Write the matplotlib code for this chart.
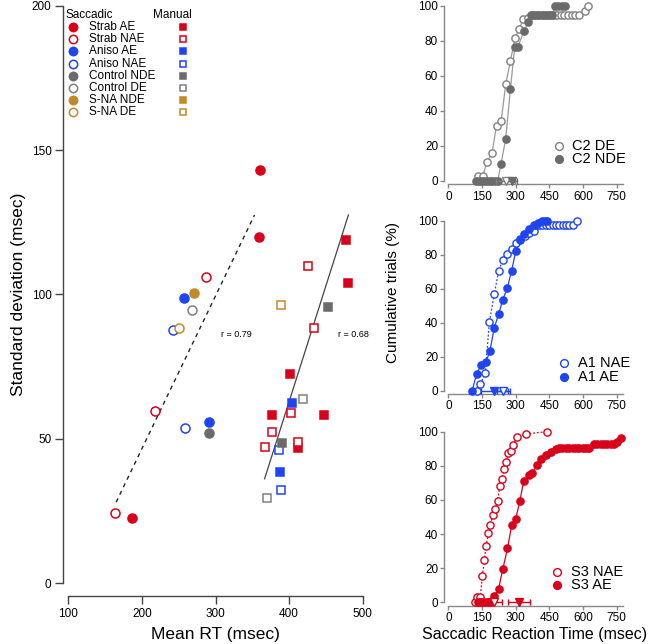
import matplotlib

matplotlib.use('Agg')
import matplotlib.pyplot as plt
from matplotlib.lines import Line2D

plt.rcParams['font.family'] = ['Liberation Sans', 'DejaVu Sans']

RED = '#d9001b'
BLUE = '#1f44f2'
DGRAY = '#6b6b6b'
LGRAY = '#808080'
GOLD = '#c08a2a'

# ---- left panel: mean RT vs SD (msec) ----
sacc_strab_ae_x = [360, 359, 187]
sacc_strab_ae_y = [143, 120, 22.6]
sacc_strab_nae_x = [287, 218, 164]
sacc_strab_nae_y = [106, 59.7, 24.2]
sacc_aniso_ae_x = [257, 291]
sacc_aniso_ae_y = [98.6, 55.9]
sacc_aniso_nae_x = [242, 258]
sacc_aniso_nae_y = [87.8, 53.7]
sacc_ctrl_nde_x = [291]
sacc_ctrl_nde_y = [52.0]
sacc_ctrl_de_x = [268]
sacc_ctrl_de_y = [94.6]
sacc_sna_nde_x = [271]
sacc_sna_nde_y = [100.4]
sacc_sna_de_x = [250.5]
sacc_sna_de_y = [88.4]

man_strab_ae_x = [477, 480.6, 401.6, 377.3, 447.6, 412.6]
man_strab_ae_y = [118.7, 103.8, 72.3, 58.3, 58.3, 46.9]
man_strab_nae_x = [425, 434, 402, 376.4, 412.6, 366.7]
man_strab_nae_y = [109.9, 88.4, 59.0, 52.4, 49.0, 47.0]
man_aniso_ae_x = [403.4, 387.4]
man_aniso_ae_y = [62.4, 38.5]
man_aniso_nae_x = [386.5, 389.2]
man_aniso_nae_y = [46.1, 32.2]
man_ctrl_nde_x = [453.5, 390.9]
man_ctrl_nde_y = [95.5, 48.6]
man_ctrl_de_x = [419, 370]
man_ctrl_de_y = [63.8, 29.6]
man_sna_nde_x = []
man_sna_nde_y = []
man_sna_de_x = [388.8]
man_sna_de_y = [96.4]

fit_sacc_x = [165, 353]
fit_sacc_y = [28, 127.5]
fit_man_x = [366.7, 480.6]
fit_man_y = [36.1, 127.5]
r_sacc = 'r = 0.79'
r_man = 'r = 0.68'

groups = [
    ('Strab AE', RED, True, sacc_strab_ae_x, sacc_strab_ae_y, man_strab_ae_x, man_strab_ae_y),
    ('Strab NAE', RED, False, sacc_strab_nae_x, sacc_strab_nae_y, man_strab_nae_x, man_strab_nae_y),
    ('Aniso AE', BLUE, True, sacc_aniso_ae_x, sacc_aniso_ae_y, man_aniso_ae_x, man_aniso_ae_y),
    ('Aniso NAE', BLUE, False, sacc_aniso_nae_x, sacc_aniso_nae_y, man_aniso_nae_x, man_aniso_nae_y),
    ('Control NDE', DGRAY, True, sacc_ctrl_nde_x, sacc_ctrl_nde_y, man_ctrl_nde_x, man_ctrl_nde_y),
    ('Control DE', LGRAY, False, sacc_ctrl_de_x, sacc_ctrl_de_y, man_ctrl_de_x, man_ctrl_de_y),
    ('S-NA NDE', GOLD, True, sacc_sna_nde_x, sacc_sna_nde_y, man_sna_nde_x, man_sna_nde_y),
    ('S-NA DE', GOLD, False, sacc_sna_de_x, sacc_sna_de_y, man_sna_de_x, man_sna_de_y),
]

# ---- right panels: cumulative saccadic RT distributions ----
c2_de_x = [130, 152, 172, 194, 214, 235, 255, 276, 297, 315, 334, 356,
           373, 389, 405, 421, 437, 453, 469, 485, 501, 517, 533, 549, 565, 581, 608, 623]
c2_de_y = [2.9, 2.9, 10.7, 15.8, 31.6, 34.3, 55.2, 68.5, 81.7, 86.8, 92.4, 92.8,
           94.7, 94.7, 94.7, 94.7, 94.7, 94.7, 94.7, 94.7, 94.7, 94.7, 94.7, 94.7, 94.7, 94.7, 97.2, 100]
c2_nde_x = [123, 135, 147, 159, 171, 183, 195, 207, 219, 234, 255, 276, 295, 308, 337, 356,
            367, 383, 399, 415, 431, 447, 463, 475, 490, 505, 520]
c2_nde_y = [0, 0, 0, 0, 0, 0, 0, 0, 0, 9.7, 24, 52.4, 76.2, 76.2, 85.7, 90.5,
            94.7, 94.7, 94.7, 94.7, 94.7, 94.7, 94.7, 100, 100, 100, 100]
c2_means = [255, 283]
c2_sds = [43, 23]

a1_nae_x = [126, 142, 164, 182, 204, 224, 242, 262, 281, 300, 318, 342, 360, 379,
            389, 404, 419, 434, 449, 464, 479, 494, 509, 524, 539, 554, 574]
a1_nae_y = [0, 3.7, 10.2, 40.2, 56.9, 70.7, 76.9, 80.4, 83.5, 86.8, 89.5, 91, 93, 94,
            97.5, 97.5, 97.5, 97.5, 97.5, 97.5, 97.5, 97.5, 97.5, 97.5, 97.5, 97.5, 100]
a1_ae_x = [105, 126, 145, 167, 185, 204, 224, 242, 262, 281, 300, 318, 337, 360, 379,
           397, 416, 428, 441]
a1_ae_y = [0, 10, 15.1, 16.7, 23.5, 37.1, 45.2, 53.6, 60.3, 70.4, 82, 88.6, 92, 94.9, 97.5,
           98.8, 100, 100, 100]
a1_means = [244, 204]
a1_sds = [30, 60]

s3_nae_x = [118, 127, 142, 151, 160, 167, 178, 186, 198, 207, 219, 229, 238, 249, 258, 267,
            277, 287, 305, 345, 438]
s3_nae_y = [0, 3.3, 3.3, 15.6, 24.8, 33, 40.4, 45.3, 51.2, 54.5, 59.6, 68, 72.4, 78, 82.4, 87.7,
            88.9, 92, 96.9, 98.7, 100]
s3_ae_x = [130, 140, 150, 160, 170, 180, 190, 204, 223, 242, 263, 282, 300, 318, 335, 358, 374,
           396, 414, 434, 456, 478, 493, 508, 523, 538, 553, 568, 583, 598, 613, 626,
           648, 663, 678, 693, 708, 723, 737, 752, 771]
s3_ae_y = [0, 0, 0, 0, 0, 0, 0, 3.7, 7.8, 19.4, 31.6, 45.3, 49.1, 59.2, 71.1, 74.4, 76,
           80.5, 84, 86.3, 88.3, 89.7, 90.3, 90.3, 90.3, 90.3, 90.3, 90.3, 90.3, 90.3, 90.3, 90.3,
           92.6, 92.6, 92.6, 92.6, 92.6, 92.6, 92.6, 94.1, 96.5]
s3_means = [205, 315]
s3_sds = [35, 48]

W, H = 650, 644
fig = plt.figure(figsize=(W / 100, H / 100), dpi=100)


def fx(px):
    return px / W


def fy(py):
    return 1 - py / H


# ---------------- left scatter ----------------
ax = fig.add_axes([fx(68.3), fy(583), 294.4 / W, 577.3 / H])
ax.patch.set_alpha(0)
for label, color, filled, sx, sy, mx, my in groups:
    face = color if filled else 'white'
    ax.plot(sx, sy, 'o', ms=6.5, mfc=face, mec=color, mew=1.1, ls='none', clip_on=False, zorder=3)
    ax.plot(mx, my, 's', ms=5.2, mfc=face, mec=color, mew=1.1, ls='none', clip_on=False, zorder=3)
ax.plot(fit_sacc_x, fit_sacc_y, ls=(0, (3, 3)), color='#222', lw=1)
ax.plot(fit_man_x, fit_man_y, ls='-', color='#444', lw=0.9)
ax.text(329, 86.2, r_sacc, fontsize=6.5, ha='center', va='center')
ax.text(488, 86.2, r_man, fontsize=6.5, ha='center', va='center')

ax.set_xlim(100, 500)
ax.set_ylim(0, 200)
ax.set_xticks([100, 200, 300, 400, 500])
ax.set_yticks([0, 50, 100, 150, 200])
for s in ['top', 'right']:
    ax.spines[s].set_visible(False)
ax.spines['left'].set_position(('outward', 3.6))
ax.spines['bottom'].set_position(('outward', 9.4))
for s in ['left', 'bottom']:
    ax.spines[s].set_color('#444')
    ax.spines[s].set_linewidth(1)
ax.tick_params(length=5.5, width=1, color='#444', labelsize=8.5, pad=3)
ax.set_xlabel('Mean RT (msec)', fontsize=12.5, va='center')
ax.set_ylabel('Standard deviation (msec)', fontsize=12.5, va='center')
ax.xaxis.set_label_coords(0.5, (583 - 634) / 577.3)
ax.yaxis.set_label_coords((19 - 68.3) / 294.4, 0.5)

# legend drawn by hand: two columns of markers, one column of labels
fig.text(fx(65), fy(15), 'Saccadic', fontsize=8.5, va='center')
fig.text(fx(153), fy(15), 'Manual', fontsize=8.5, va='center')
for i, (label, color, filled, *_rest) in enumerate(groups):
    yy = fy(27 + 12.2 * i)
    face = color if filled else 'white'
    fig.add_artist(Line2D([fx(73)], [yy], marker='o', ms=6, mfc=face, mec=color, mew=1.1, ls='none'))
    fig.add_artist(Line2D([fx(183)], [yy], marker='s', ms=4.6, mfc=face, mec=color, mew=1.1, ls='none'))
    fig.text(fx(89), yy, label, fontsize=8.5, va='center')


# ---------------- right cumulative panels ----------------
def cum_panel(rect, open_xy, filled_xy, color, open_color, line_color, open_ls,
              means, sds, labels, leg_px, ylabel=None, xlabel=None):
    a = fig.add_axes(rect)
    a.patch.set_alpha(0)
    ox, oy = open_xy
    fx_, fy_ = filled_xy
    a.plot(ox, oy, color=line_color, ls=open_ls, lw=0.9, zorder=2, clip_on=False)
    a.plot(fx_, fy_, color=line_color, ls='-', lw=0.9, zorder=2, clip_on=False)
    a.plot(ox, oy, 'o', ms=5.2, mfc='white', mec=open_color, mew=1, ls='none', zorder=3, clip_on=False)
    a.plot(fx_, fy_, 'o', ms=5.2, mfc=color, mec=color, mew=1, ls='none', zorder=3, clip_on=False)
    # means +- sd as triangles on the baseline
    for m, sd, face, edge in [(means[0], sds[0], 'white', open_color), (means[1], sds[1], color, color)]:
        eb = a.errorbar([m], [0], xerr=[sd], fmt='v', ms=5.5, mfc=face, mec=edge, mew=1,
                        ecolor=edge, elinewidth=1, capsize=2.5, zorder=4)
        for art in eb.get_children():
            art.set_clip_on(False)
    a.set_xlim(0, 780)
    a.set_ylim(0, 100)
    a.set_xticks([0, 150, 300, 450, 600, 750])
    a.set_yticks([0, 20, 40, 60, 80, 100])
    for s in ['top', 'right']:
        a.spines[s].set_visible(False)
    a.spines['left'].set_position(('outward', 3))
    a.spines['bottom'].set_position(('outward', 2.5))
    for s in ['left', 'bottom']:
        a.spines[s].set_color('#888')
        a.spines[s].set_linewidth(1)
    a.tick_params(length=3, width=1, color='#888', labelsize=8.5, pad=1.5)
    if ylabel:
        a.set_ylabel(ylabel, fontsize=11, va='center')
        a.yaxis.set_label_coords((393 - 448.5) / (780 * 0.2243), 0.58)
    if xlabel:
        a.set_xlabel(xlabel, fontsize=11.5, va='center')
        a.xaxis.set_label_coords(0.49, (602.3 - 634.5) / 170.6)
    mx, tx, y1, y2 = leg_px
    for lab, yy, face, edge in [(labels[0], y1, 'white', open_color), (labels[1], y2, color, color)]:
        fig.add_artist(Line2D([fx(mx)], [fy(yy)], marker='o', ms=5.6, mfc=face, mec=edge, mew=1, ls='none'))
        fig.text(fx(tx), fy(yy), lab, fontsize=10.5, va='center')
    return a


RX = fx(448.5)
RW = 780 * 0.2243 / W
cum_panel([RX, fy(181), RW, 175.3 / H], (c2_de_x, c2_de_y), (c2_nde_x, c2_nde_y),
          DGRAY, LGRAY, '#9a9a9a', '-', c2_means, c2_sds, ['C2 DE', 'C2 NDE'],
          (559, 571.7, 145.7, 159.3))
cum_panel([RX, fy(390.7), RW, 170 / H], (a1_nae_x, a1_nae_y), (a1_ae_x, a1_ae_y),
          BLUE, BLUE, BLUE, (0, (1.5, 1.5)), a1_means, a1_sds, ['A1 NAE', 'A1 AE'],
          (564.3, 577.7, 363.3, 376.7), ylabel='Cumulative trials (%)')
cum_panel([RX, fy(602.3), RW, 170.6 / H], (s3_nae_x, s3_nae_y), (s3_ae_x, s3_ae_y),
          RED, RED, RED, (0, (1.5, 1.5)), s3_means, s3_sds, ['S3 NAE', 'S3 AE'],
          (557.3, 571, 571.7, 585), xlabel='Saccadic Reaction Time (msec)')

fig.savefig('out.png', dpi=100)
